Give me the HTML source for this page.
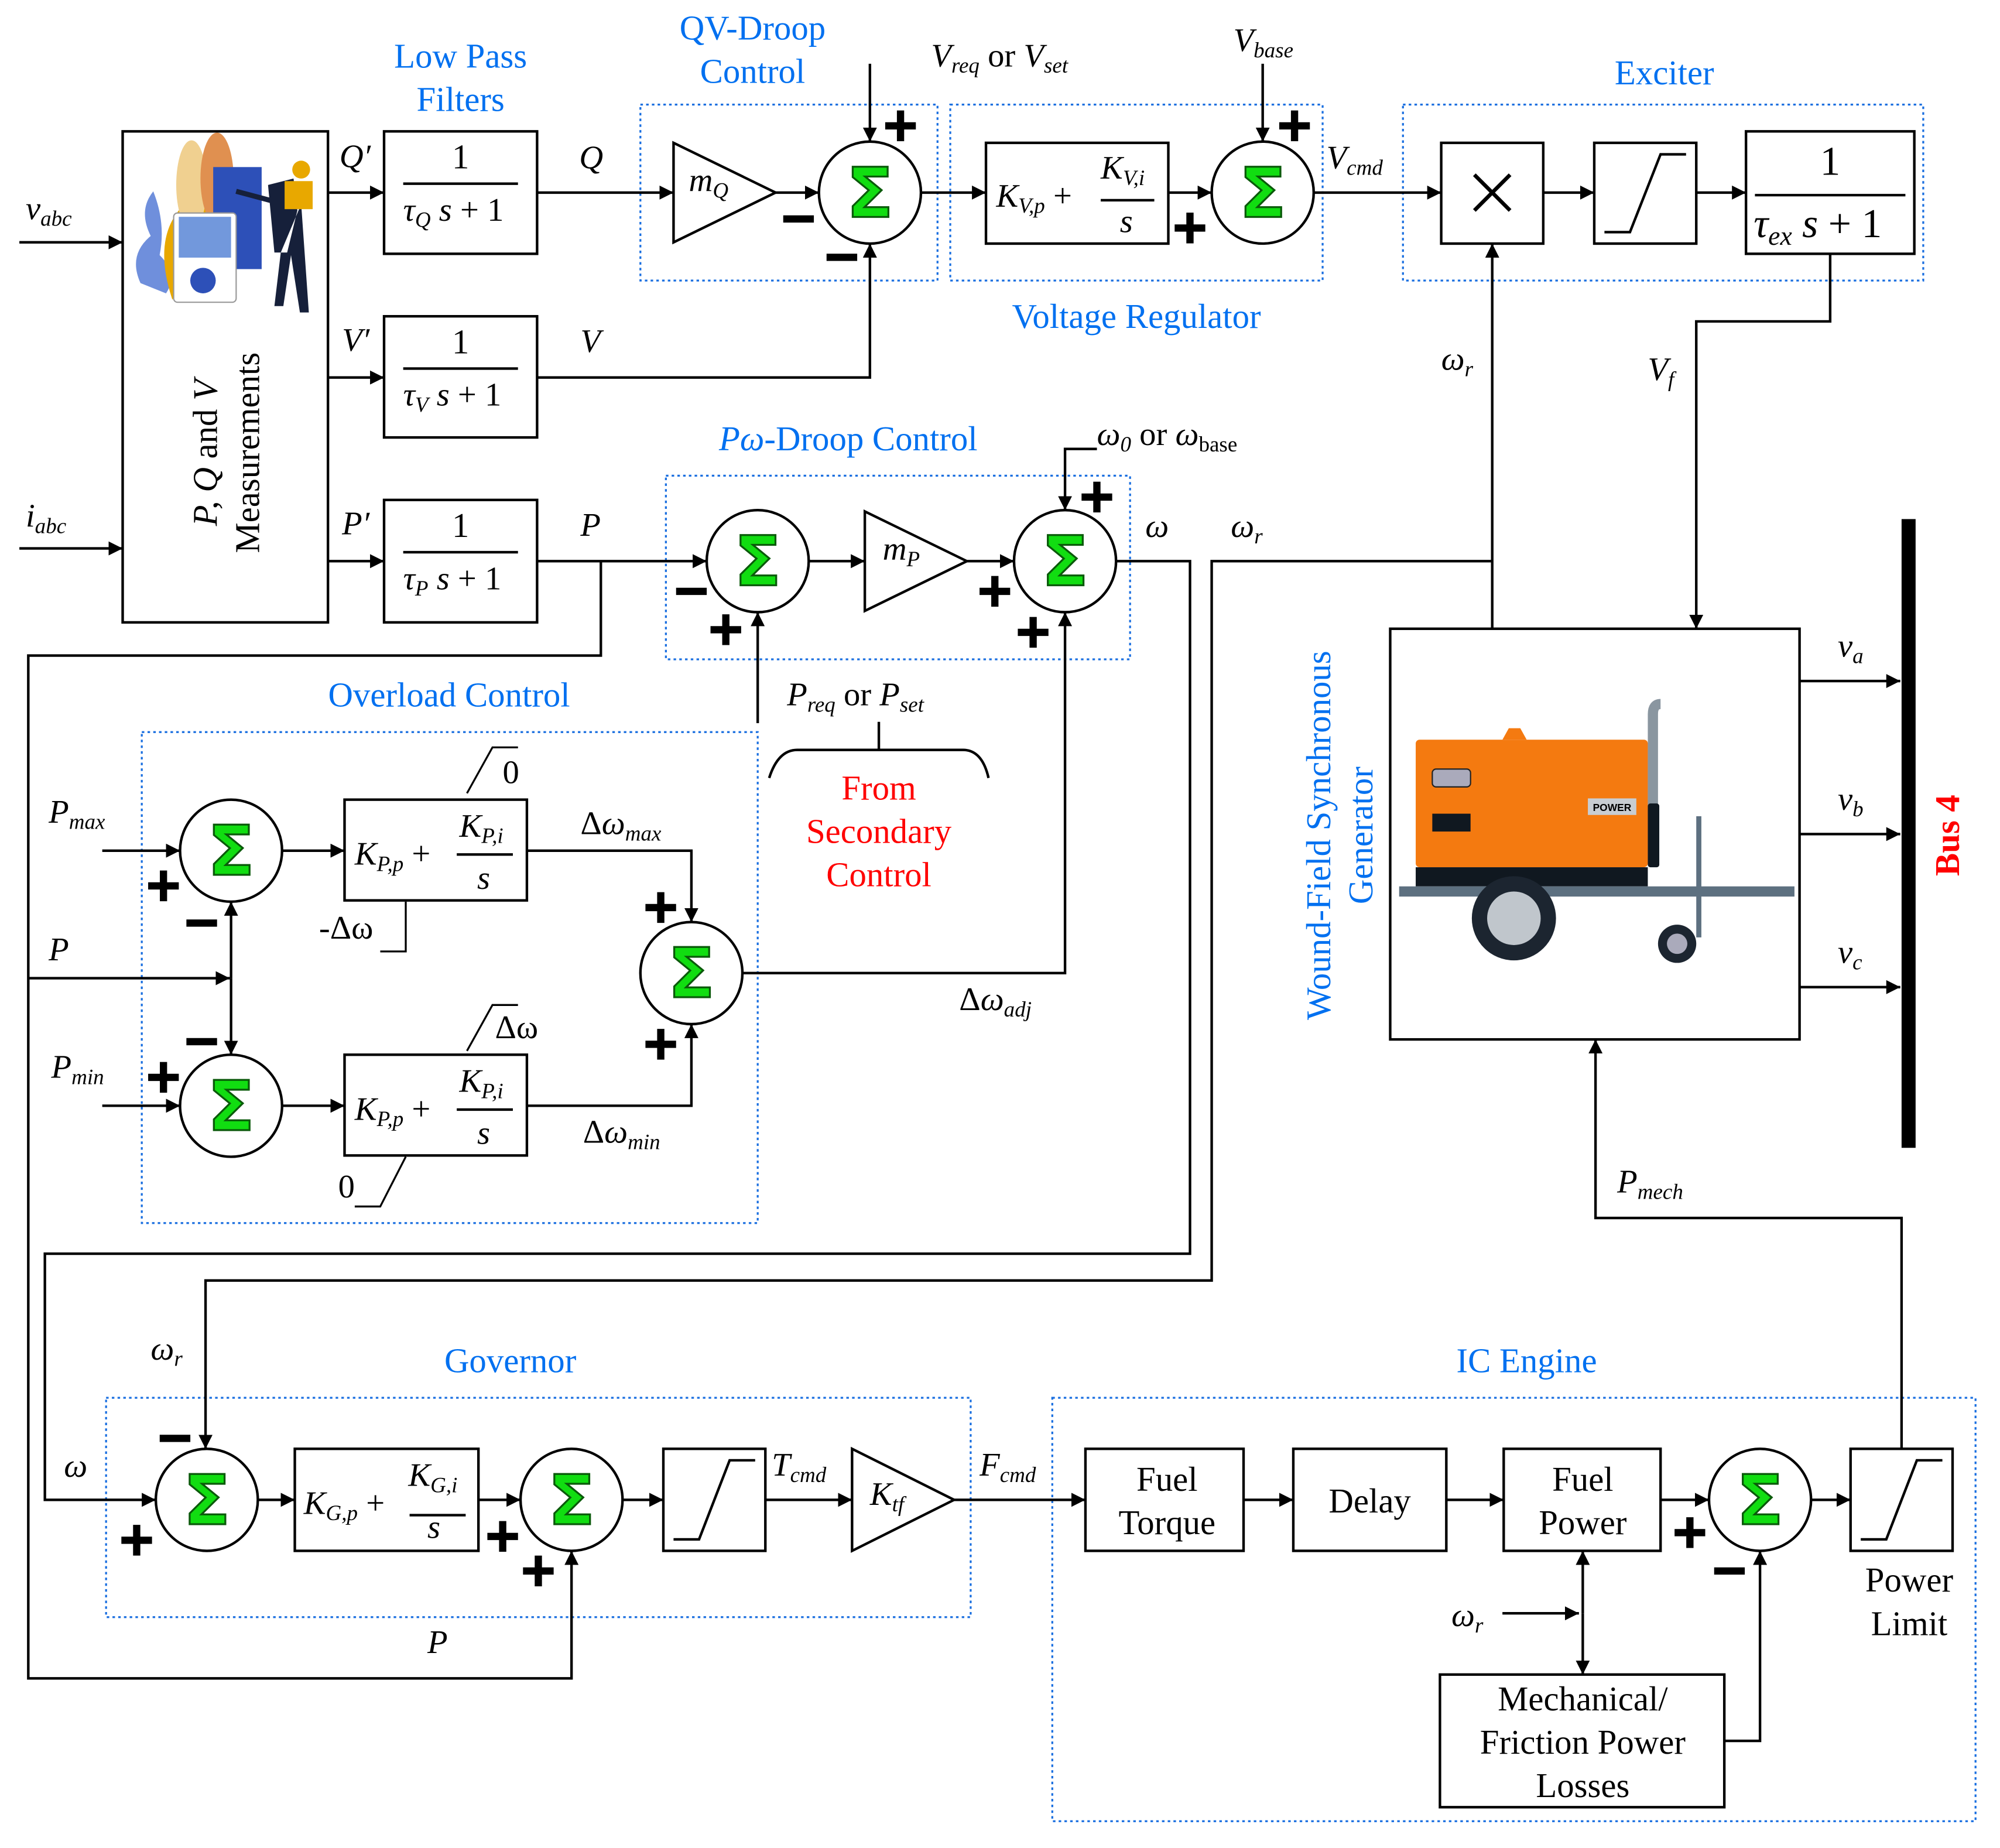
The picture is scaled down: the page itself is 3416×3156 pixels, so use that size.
<!DOCTYPE html>
<html><head><meta charset="utf-8"><style>
html,body{margin:0;padding:0;background:#fff;overflow:hidden}
svg{display:block}
text{font-family:"Liberation Serif",serif}
.m text{font-style:italic;font-size:26px;fill:#000}
.b text{fill:#0070f0;font-size:27px}
.r text{fill:#f00;font-size:27px}
.n text{font-size:27px;fill:#000}
.s text{fill:#11dd11;stroke:#0a5a0a;stroke-width:1.5px;font-size:54px;font-weight:bold;font-family:"DejaVu Sans",sans-serif}
.pm text{font-family:"DejaVu Sans",sans-serif;font-weight:bold;font-size:36px;fill:#000;stroke:#000;stroke-width:1.5px}
</style></head><body>
<svg width="3416" height="3156" viewBox="0 0 1568 1449" xmlns="http://www.w3.org/2000/svg">
<defs><marker id="a" viewBox="0 0 10 10" refX="10" refY="5" markerWidth="11" markerHeight="11" markerUnits="userSpaceOnUse" orient="auto"><path d="M0,0L10,5L0,10z" fill="#000"/></marker></defs>
<g fill="none" stroke="#1a6fe0" stroke-width="1.5" stroke-dasharray="2,2.5">
<rect x="502" y="82" width="233" height="138"/><rect x="745" y="82" width="292" height="138"/><rect x="1100" y="82" width="408" height="138"/>
<rect x="522" y="373" width="364" height="144"/><rect x="111" y="574" width="483" height="385"/>
<rect x="83" y="1096" width="678" height="172"/><rect x="825" y="1096" width="724" height="332"/>
</g>
<g fill="none" stroke="#000" stroke-width="2">
<rect x="96" y="103" width="161" height="385"/>
<rect x="301" y="103" width="120" height="96"/><rect x="301" y="248" width="120" height="95"/><rect x="301" y="392" width="120" height="96"/>
<path d="M528,112L608,151L528,190Z"/><path d="M678,401L758,440L678,479Z"/><path d="M668,1136L748,1176L668,1216Z"/>
<rect x="773" y="112" width="143" height="79"/><rect x="1130" y="112" width="80" height="79"/><rect x="1250" y="112" width="80" height="79"/><rect x="1369" y="103" width="132" height="96"/>
<rect x="270" y="627" width="143" height="79"/><rect x="270" y="827" width="143" height="79"/>
<rect x="231" y="1136" width="144" height="80"/><rect x="520" y="1136" width="80" height="80"/>
<rect x="851" y="1136" width="124" height="80"/><rect x="1014" y="1136" width="120" height="80"/><rect x="1179" y="1136" width="123" height="80"/><rect x="1451" y="1136" width="80" height="80"/>
<rect x="1129" y="1313" width="223" height="104"/><rect x="1090" y="493" width="321" height="322"/>
<circle cx="682" cy="151" r="40"/><circle cx="990" cy="151" r="40"/><circle cx="594" cy="440" r="40"/><circle cx="835" cy="440" r="40"/>
<circle cx="181" cy="667" r="40"/><circle cx="181" cy="867" r="40"/><circle cx="542" cy="763" r="40"/>
<circle cx="162" cy="1176" r="40"/><circle cx="448" cy="1176" r="40"/><circle cx="1380" cy="1176" r="40"/>
<path d="M1156,137L1184,165M1184,137L1156,165" stroke-width="3"/>
<path d="M1258,182L1278,182L1302,121L1322,121M528,1207L548,1207L572,1145L592,1145M1459,1207L1479,1207L1503,1145L1523,1145"/>
<path d="M316,144H406M316,289H406M316,433H406M1376,153H1494M863,157H905M358,670H402M358,870H402M321,1188H365"/>
<path d="M366,622L386,586H406M298,746H318L318,707M366,824L386,788H406M278,946H298L318,907" stroke-width="1.5"/>
<path d="M603,610Q610,588 625,588H755Q770,588 775,610M689,588V566"/>
</g>
<g fill="none" stroke="#000" stroke-width="2" marker-end="url(#a)">
<path d="M15,190H96"/><path d="M15,430H96"/>
<path d="M257,151H301"/><path d="M257,296H301"/><path d="M257,440H301"/>
<path d="M421,151H528"/><path d="M608,151H642"/><path d="M682,50V111"/><path d="M421,296H682V191"/>
<path d="M722,151H773"/><path d="M916,151H950"/><path d="M990,50V111"/><path d="M1030,151H1130"/><path d="M1210,151H1250"/><path d="M1330,151H1369"/>
<path d="M1170,493V191"/><path d="M1435,199V252H1330V493"/>
<path d="M421,440H554"/><path d="M634,440H678"/><path d="M758,440H795"/><path d="M860,352H835V400"/><path d="M594,567V480"/>
<path d="M582,763H835V480"/>
<path d="M471,440V514H22V1316H448V1216"/><path d="M22,767H180"/>
<path d="M80,667H141"/><path d="M80,867H141"/><path d="M221,667H270"/><path d="M221,867H270"/>
<path d="M413,667H542V723"/><path d="M413,867H542V803"/>
<path d="M875,440H933V983H35V1176H122"/><path d="M1170,440H950V1004H161V1136"/>
<path d="M202,1176H231"/><path d="M375,1176H408"/><path d="M488,1176H520"/><path d="M600,1176H668"/><path d="M748,1176H851"/>
<path d="M975,1176H1014"/><path d="M1134,1176H1179"/><path d="M1302,1176H1340"/><path d="M1420,1176H1451"/>
<path d="M1491,1136V955H1251V815"/><path d="M1352,1365H1380V1216"/><path d="M1178,1265H1238"/>
<path d="M1411,534H1490"/><path d="M1411,654H1490"/><path d="M1411,774H1490"/>
<path d="M181,767V707"/><path d="M181,767V827"/><path d="M1241,1265V1216"/><path d="M1241,1265V1313"/>
</g>
<rect x="1491" y="407" width="11" height="493" fill="#000"/>
<g>
<path d="M110,222Q100,200 118,185Q108,165 120,150Q130,175 125,200Q140,215 130,230Z" fill="#6f8fdc"/>
<path d="M135,235Q120,190 140,165Q150,140 170,115Q175,160 150,210Z" fill="#e8a800"/>
<ellipse cx="150" cy="145" rx="12" ry="35" fill="#f0d090"/><ellipse cx="170" cy="140" rx="13" ry="36" fill="#e09050"/>
<rect x="167" y="131" width="38" height="80" fill="#2d50b8"/>
<rect x="136" y="167" width="49" height="70" rx="3" fill="#fff" stroke="#999"/><rect x="140" y="170" width="41" height="32" fill="#7298dc"/>
<circle cx="159" cy="220" r="10" fill="#2d50b8"/>
<path d="M210,145L230,140L233,165L225,198H215ZM220,198L215,240H222L228,200L235,245H242L236,160" fill="#16203a"/>
<rect x="223" y="142" width="22" height="22" fill="#e8a800"/><circle cx="236" cy="133" r="7" fill="#e8a800"/>
<path d="M185,150L215,158" stroke="#16203a" stroke-width="4"/>
</g>
<g>
<rect x="1110" y="580" width="182" height="100" rx="3" fill="#f47a10"/>
<path d="M1178,580L1183,571H1192L1197,580Z" fill="#f47a10"/>
<rect x="1110" y="680" width="182" height="15" fill="#101820"/>
<path d="M1296,640V560Q1296,552 1302,552" stroke="#8a96a0" stroke-width="8" fill="none"/>
<rect x="1292" y="630" width="9" height="50" rx="2" fill="#101820"/>
<rect x="1097" y="695" width="310" height="8" fill="#5d7080"/>
<rect x="1123" y="603" width="30" height="14" rx="3" fill="#aab" stroke="#222"/>
<rect x="1123" y="638" width="30" height="14" fill="#101820"/>
<rect x="1330" y="640" width="4" height="95" fill="#5d7080"/>
<rect x="1245" y="626" width="38" height="13" fill="#c8cdd2"/>
<text x="1264" y="636" style="font-size:8px;font-weight:bold;font-family:'Liberation Sans',sans-serif" text-anchor="middle">POWER</text>
<circle cx="1187" cy="720" r="33" fill="#1c2530"/><circle cx="1187" cy="720" r="21" fill="#c0c6cc"/>
<circle cx="1315" cy="740" r="15" fill="#1c2530"/><circle cx="1315" cy="740" r="8" fill="#aab"/>
</g>
<g class="s" text-anchor="middle">
<text x="682" y="170">Σ</text><text x="990" y="170">Σ</text><text x="594" y="459">Σ</text><text x="835" y="459">Σ</text>
<text x="181" y="686">Σ</text><text x="181" y="886">Σ</text><text x="542" y="782">Σ</text>
<text x="162" y="1195">Σ</text><text x="448" y="1195">Σ</text><text x="1380" y="1195">Σ</text>
</g>
<g class="pm" text-anchor="middle">
<text x="706" y="110">+</text><text x="626" y="183">−</text><text x="660" y="213">−</text>
<text x="933" y="190">+</text><text x="1015" y="110">+</text>
<text x="860" y="401">+</text><text x="780" y="475">+</text><text x="810" y="507">+</text><text x="542" y="475">−</text><text x="569" y="505">+</text>
<text x="128" y="706">+</text><text x="158" y="735">−</text><text x="128" y="856">+</text><text x="158" y="828">−</text>
<text x="518" y="723">+</text><text x="518" y="830">+</text>
<text x="137" y="1139">−</text><text x="107" y="1219">+</text><text x="394" y="1216">+</text><text x="422" y="1243">+</text>
<text x="1325" y="1213">+</text><text x="1356" y="1243">−</text>
</g>
<g class="b" text-anchor="middle">
<text x="361" y="53">Low Pass</text><text x="361" y="87">Filters</text>
<text x="590" y="31">QV-Droop</text><text x="590" y="65">Control</text>
<text x="891" y="257">Voltage Regulator</text><text x="1305" y="66">Exciter</text>
<text x="665" y="353"><tspan font-style="italic">Pω</tspan>-Droop Control</text>
<text x="352" y="554">Overload Control</text><text x="400" y="1076">Governor</text><text x="1197" y="1076">IC Engine</text>
<text transform="translate(1043,655) rotate(-90)">Wound-Field Synchronous</text>
<text transform="translate(1076,655) rotate(-90)">Generator</text>
</g>
<g class="r" text-anchor="middle"><text x="689" y="627">From</text><text x="689" y="661">Secondary</text><text x="689" y="695">Control</text>
<text transform="translate(1536,655) rotate(-90)" style="font-weight:bold">Bus 4</text></g>
<g class="n" text-anchor="middle">
<text transform="translate(170,355) rotate(-90)"><tspan font-style="italic">P, Q</tspan> and <tspan font-style="italic">V</tspan></text>
<text transform="translate(203,355) rotate(-90)">Measurements</text>
<text x="361" y="132">1</text><text x="361" y="277">1</text><text x="361" y="421">1</text><text x="1435" y="137" style="font-size:32px">1</text>
<text x="915" y="1169">Fuel</text><text x="915" y="1203">Torque</text><text x="1074" y="1186">Delay</text>
<text x="1241" y="1169">Fuel</text><text x="1241" y="1203">Power</text>
<text x="1497" y="1248">Power</text><text x="1497" y="1282">Limit</text>
<text x="1241" y="1341">Mechanical/</text><text x="1241" y="1375">Friction Power</text><text x="1241" y="1409">Losses</text>
</g>
<g class="m">
<text x="20" y="172">v<tspan font-size="17" dy="5">abc</tspan></text>
<text x="20" y="413">i<tspan font-size="17" dy="5">abc</tspan></text>
<text x="266" y="131">Q′</text><text x="268" y="275">V′</text><text x="268" y="419">P′</text>
<text x="454" y="132">Q</text><text x="455" y="276">V</text><text x="455" y="420">P</text>
<text x="316" y="173">τ<tspan font-size="17" dy="5">Q</tspan><tspan dy="-5"> s</tspan><tspan font-style="normal"> + 1</tspan></text>
<text x="316" y="318">τ<tspan font-size="17" dy="5">V</tspan><tspan dy="-5"> s</tspan><tspan font-style="normal"> + 1</tspan></text>
<text x="316" y="462">τ<tspan font-size="17" dy="5">P</tspan><tspan dy="-5"> s</tspan><tspan font-style="normal"> + 1</tspan></text>
<text x="540" y="150">m<tspan font-size="17" dy="5">Q</tspan></text>
<text x="692" y="439">m<tspan font-size="17" dy="5">P</tspan></text>
<text x="682" y="1180">K<tspan font-size="17" dy="5">tf</tspan></text>
<text x="730" y="52">V<tspan font-size="17" dy="5">req</tspan><tspan font-style="normal" dy="-5"> or </tspan>V<tspan font-size="17" dy="5">set</tspan></text>
<text x="967" y="40">V<tspan font-size="17" dy="5">base</tspan></text>
<text x="1040" y="132">V<tspan font-size="17" dy="5">cmd</tspan></text>
<text x="781" y="162">K<tspan font-size="17" dy="5">V,p</tspan><tspan font-style="normal" dy="-5"> +</tspan></text>
<text x="863" y="140">K<tspan font-size="17" dy="5">V,i</tspan></text><text x="878" y="182">s</text>
<text x="1375" y="186" style="font-size:32px">τ<tspan font-size="21" dy="6">ex</tspan><tspan dy="-6"> s</tspan><tspan font-style="normal"> + 1</tspan></text>
<text x="1130" y="290">ω<tspan font-size="17" dy="5">r</tspan></text>
<text x="1292" y="298">V<tspan font-size="17" dy="5">f</tspan></text>
<text x="860" y="349">ω<tspan font-size="17" dy="5">0</tspan><tspan font-style="normal" dy="-5"> or </tspan>ω<tspan font-size="17" dy="5" font-style="normal">base</tspan></text>
<text x="898" y="421">ω</text><text x="965" y="421">ω<tspan font-size="17" dy="5">r</tspan></text>
<text x="617" y="553">P<tspan font-size="17" dy="5">req</tspan><tspan font-style="normal" dy="-5"> or </tspan>P<tspan font-size="17" dy="5">set</tspan></text>
<text x="38" y="645">P<tspan font-size="17" dy="5">max</tspan></text><text x="38" y="753">P</text><text x="40" y="845">P<tspan font-size="17" dy="5">min</tspan></text>
<text x="278" y="678">K<tspan font-size="17" dy="5">P,p</tspan><tspan font-style="normal" dy="-5"> +</tspan></text>
<text x="360" y="656">K<tspan font-size="17" dy="5">P,i</tspan></text><text x="374" y="697">s</text>
<text x="278" y="878">K<tspan font-size="17" dy="5">P,p</tspan><tspan font-style="normal" dy="-5"> +</tspan></text>
<text x="360" y="856">K<tspan font-size="17" dy="5">P,i</tspan></text><text x="374" y="897">s</text>
<text x="394" y="614" style="font-style:normal">0</text><text x="250" y="736" style="font-style:normal">-Δω</text>
<text x="388" y="814" style="font-style:normal">Δω</text><text x="265" y="939" style="font-style:normal">0</text>
<text x="455" y="654"><tspan font-style="normal">Δ</tspan>ω<tspan font-size="17" dy="5">max</tspan></text>
<text x="457" y="896"><tspan font-style="normal">Δ</tspan>ω<tspan font-size="17" dy="5">min</tspan></text>
<text x="752" y="792"><tspan font-style="normal">Δ</tspan>ω<tspan font-size="17" dy="5">adj</tspan></text>
<text x="1441" y="515">v<tspan font-size="17" dy="5">a</tspan></text><text x="1441" y="635">v<tspan font-size="17" dy="5">b</tspan></text><text x="1441" y="755">v<tspan font-size="17" dy="5">c</tspan></text>
<text x="1268" y="935">P<tspan font-size="17" dy="5">mech</tspan></text>
<text x="118" y="1066">ω<tspan font-size="17" dy="5">r</tspan></text><text x="50" y="1158">ω</text>
<text x="238" y="1187">K<tspan font-size="17" dy="5">G,p</tspan><tspan font-style="normal" dy="-5"> +</tspan></text>
<text x="320" y="1165">K<tspan font-size="17" dy="5">G,i</tspan></text><text x="335" y="1206">s</text>
<text x="605" y="1157">T<tspan font-size="17" dy="5">cmd</tspan></text><text x="768" y="1157">F<tspan font-size="17" dy="5">cmd</tspan></text>
<text x="335" y="1296">P</text>
<text x="1138" y="1275">ω<tspan font-size="17" dy="5">r</tspan></text>
</g>
</svg>
</body></html>
